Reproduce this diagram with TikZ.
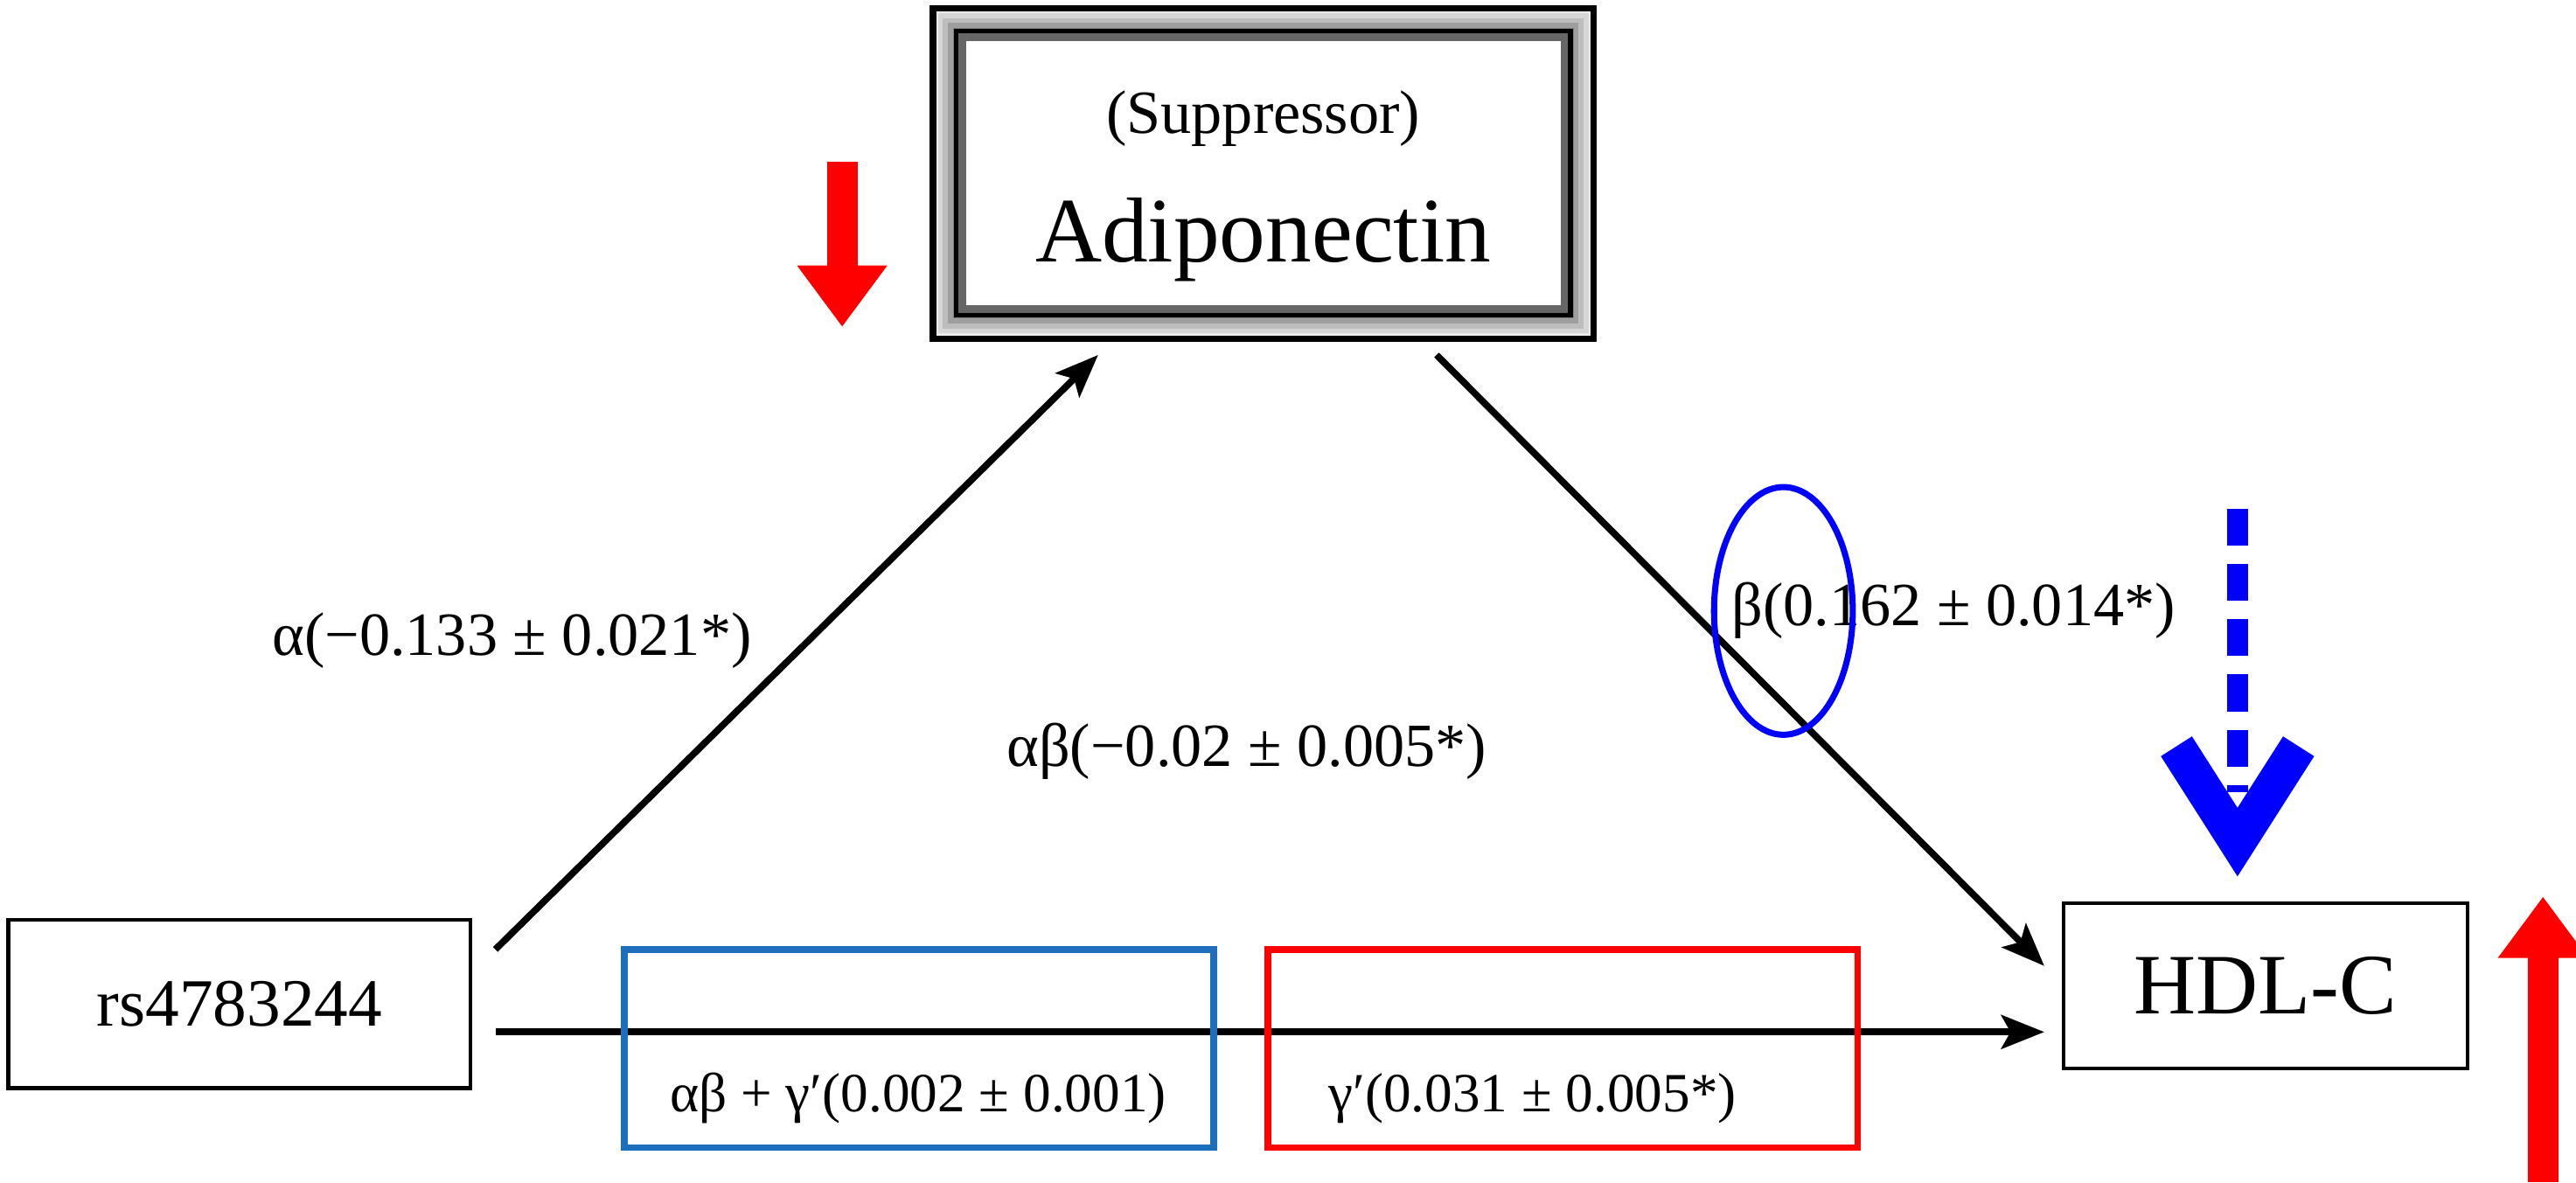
\documentclass[tikz,border=0pt]{standalone}
\usepackage{fontspec}
\setmainfont{Liberation Serif}
\usetikzlibrary{arrows.meta}
\begin{document}
\begin{tikzpicture}[x=0.018885cm,y=-0.018885cm,
 conn/.style={line width=2.2pt,-{Stealth[length=14pt,width=11pt,inset=3pt]}},
 lab/.style={font=\fontsize{20}{22}\selectfont},
 blab/.style={font=\fontsize{18}{20}\selectfont}]
\useasboundingbox (0,0) rectangle (1560,716);
% Adiponectin box with soft gray border
\foreach \i/\c in {0/8,3/16,6/26,9/38,12/50,14/60}{
 \fill[black!\c] (565+\i,5+\i) rectangle (965-\i,205-\i);}
\fill[white] (585,25) rectangle (945,185);
\draw[line width=2pt] (565,5) rectangle (965,205);
\draw[line width=1.5pt] (579,19) rectangle (951,191);
\node[font=\fontsize{20}{22}\selectfont] (sup) at (765,72) {(Suppressor)};
\node[font=\fontsize{30}{34}\selectfont] (adip) at (765,145) {Adiponectin};
\coordinate (adipL) at (665,215);
\coordinate (adipR) at (870,215);
% side boxes
\node[draw,line width=1.2pt,font=\fontsize{22}{24}\selectfont,minimum width=280*0.018885cm,minimum height=102*0.018885cm] (rs) at (145,608) {rs4783244};
\node[draw,line width=1.2pt,font=\fontsize{28}{30}\selectfont,minimum width=245*0.018885cm,minimum height=100*0.018885cm] (hdl) at (1372,597) {HDL-C};
% arrows
\draw[conn] (300,575) -- (adipL);
\draw[conn] (adipR) -- (1238,585);
\draw[conn] (300,625) -- (1238,625);
% red arrows
\draw[red,line width=10pt,-{Triangle[length=20pt,width=28pt]}] (510,98) -- (510,198);
\draw[red,line width=10pt,-{Triangle[length=20pt,width=28pt]}] (1540,716) -- (1540,543);
% labels
\node[lab] (la) at (310,388) {α(−0.133 ± 0.021*)};
\node[lab] (lab2) at (755,455) {αβ(−0.02 ± 0.005*)};
\node[lab] (lb) at (1183,370) {β(0.162 ± 0.014*)};
\draw[blue,line width=2pt] (1080,370) ellipse (42 and 75);
% blue dashed arrow
\draw[blue,line width=7pt,dash pattern=on 12pt off 6pt] (1355,308) -- (1355,480);
\draw[blue,line width=12pt,line join=miter] (1318,452) -- (1355,510) -- (1392,452);
% bottom boxes
\draw[color={rgb,255:red,30;green,110;blue,190},line width=2.2pt] (378,575) rectangle (735,695);
\draw[red,line width=2.2pt] (768,575) rectangle (1125,695);
\node[blab] (l1) at (556,665) {αβ + γ′(0.002 ± 0.001)};
\node[blab] (l2) at (928,665) {γ′(0.031 ± 0.005*)};
\end{tikzpicture}
\end{document}
